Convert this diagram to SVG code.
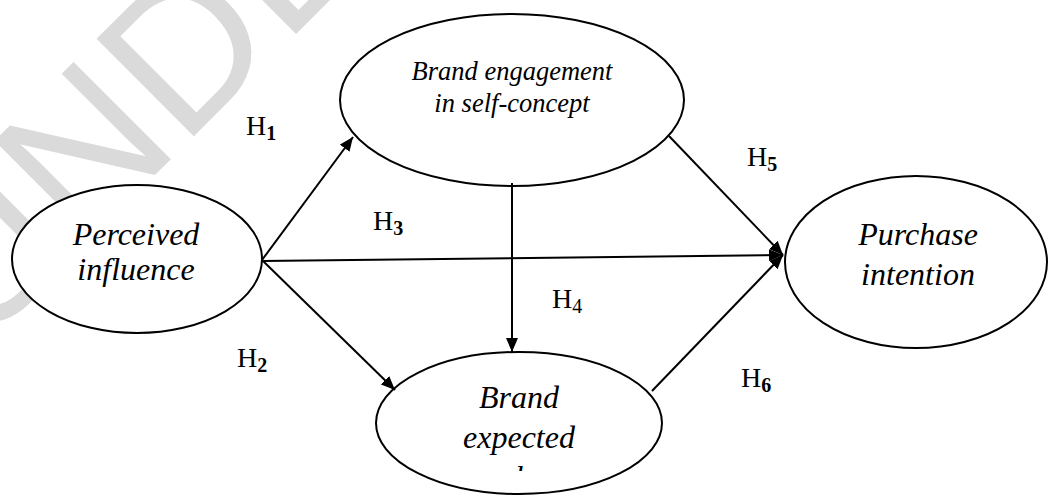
<svg xmlns="http://www.w3.org/2000/svg" width="1048" height="495" viewBox="0 0 1048 495">
<style>
.node ellipse{fill:#fff;stroke:#000;stroke-width:2}
.nt{font-family:"Liberation Serif",serif;font-style:italic;font-size:32px;text-anchor:middle;fill:#000}
.ns{font-size:26.5px}
.lb{font-family:"Liberation Serif",serif;font-size:28px;fill:#000}
.sb{font-size:20px;font-weight:bold}
.sn{font-size:20px}
.cn line{stroke:#000;stroke-width:2;fill:none}
.wm{font-family:"Liberation Sans",sans-serif;font-size:200px;fill:#dadada}
</style>
<defs>
<marker id="ah" viewBox="0 0 14 12" refX="14" refY="6" markerWidth="14" markerHeight="12" markerUnits="userSpaceOnUse" orient="auto">
<path d="M0,0 L14,6 L0,12 Z" fill="#000"/>
</marker>
<clipPath id="clipv"><rect x="0" y="0" width="1048" height="471"/></clipPath>
</defs>
<rect width="1048" height="495" fill="#fff"/>
<g id="watermark"><text class="wm" transform="translate(-22,352) rotate(-45)">UNDE</text></g>

<g id="n-perceived" class="node">
<ellipse cx="137" cy="259" rx="125" ry="74"/>
<text class="nt" x="136" y="245">Perceived</text>
<text class="nt" x="136" y="280">influence</text>
</g>
<g id="n-engagement" class="node">
<ellipse cx="512" cy="100" rx="172" ry="86"/>
<text class="nt ns" x="512" y="80">Brand engagement</text>
<text class="nt ns" x="512" y="112">in self-concept</text>
</g>
<g id="n-purchase" class="node">
<ellipse cx="916" cy="262" rx="131" ry="86"/>
<text class="nt" x="918" y="245">Purchase</text>
<text class="nt" x="918" y="285">intention</text>
</g>
<g id="n-expected" class="node">
<ellipse cx="519" cy="423" rx="143" ry="71"/>
<text class="nt" x="519" y="408">Brand</text>
<text class="nt" x="519" y="448">expected</text>
<text class="nt" x="519" y="488" clip-path="url(#clipv)">value</text>
</g>

<g id="connectors" class="cn">
<line x1="262" y1="260" x2="353" y2="137" marker-end="url(#ah)"/>
<line x1="262" y1="260" x2="395" y2="390" marker-end="url(#ah)"/>
<line x1="262" y1="261" x2="783" y2="255" marker-end="url(#ah)"/>
<line x1="512" y1="183" x2="512" y2="352" marker-end="url(#ah)"/>
<line x1="669" y1="136" x2="783" y2="255" marker-end="url(#ah)"/>
<line x1="652" y1="391" x2="783" y2="255" marker-end="url(#ah)"/>
</g>

<g id="labels">
<text class="lb" x="246" y="135">H<tspan class="sb" dy="5">1</tspan></text>
<text class="lb" x="237" y="367">H<tspan class="sb" dy="5">2</tspan></text>
<text class="lb" x="373" y="230">H<tspan class="sb" dy="5">3</tspan></text>
<text class="lb" x="552" y="308">H<tspan class="sn" dy="5">4</tspan></text>
<text class="lb" x="747" y="166">H<tspan class="sb" dy="5">5</tspan></text>
<text class="lb" x="741" y="387">H<tspan class="sb" dy="5">6</tspan></text>
</g>
</svg>
